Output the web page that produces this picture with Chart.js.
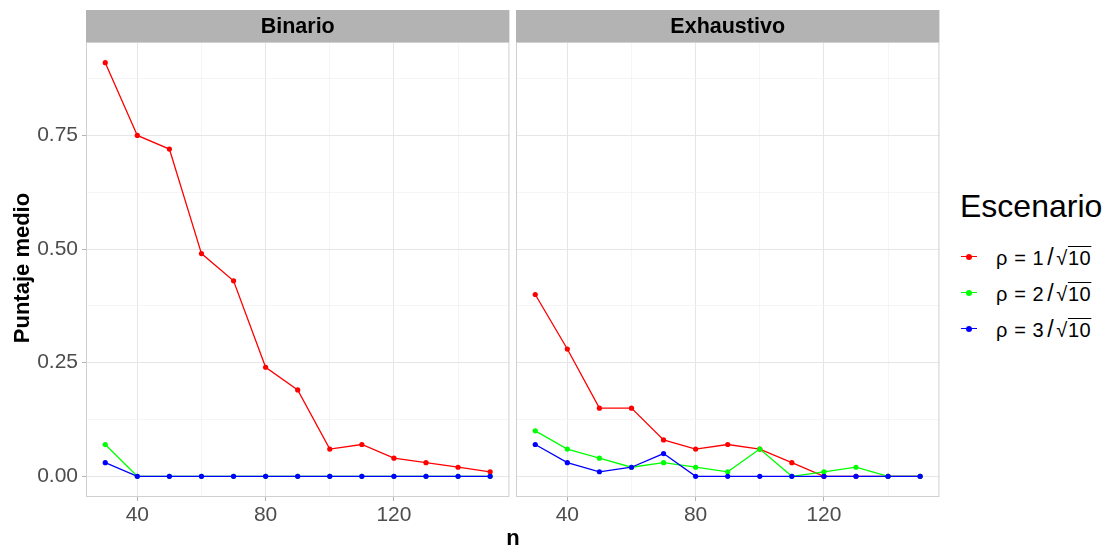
<!DOCTYPE html>
<html><head><meta charset="utf-8">
<script src="https://cdn.jsdelivr.net/npm/chart.js@4/dist/chart.umd.min.js"></script>
<style>
html,body{margin:0;padding:0;background:#fff;width:1112px;height:552px;overflow:hidden;font-family:"Liberation Sans",Arial,sans-serif;}
canvas{position:absolute;top:0;}
#xt{position:absolute;left:463px;width:100px;top:525px;text-align:center;font-weight:bold;font-size:22px;line-height:26px;color:#000;}
#yt{position:absolute;left:-78px;top:255px;width:200px;height:26px;line-height:26px;text-align:center;font-weight:bold;font-size:22px;color:#000;transform:rotate(-90deg);}
#legt{position:absolute;left:960px;top:187px;font-size:32px;line-height:38px;color:#000;}
.it{position:absolute;left:960px;height:30px;width:150px;}
.ln{position:absolute;left:1px;top:14px;width:16px;height:1.4px;}
.dt{position:absolute;left:6px;top:12px;width:6px;height:6px;border-radius:50%;}
.tx{position:absolute;left:36px;top:2px;line-height:26px;font-size:20px;white-space:nowrap;color:#000;letter-spacing:0.6px;}
.sl{font-size:23px;margin:0 2px 0 3px;}
.ov{text-decoration:overline;text-decoration-thickness:1px;}
</style></head><body>
<canvas id="c1" width="512" height="552" style="left:0px;width:512px;height:552px"></canvas>
<canvas id="c2" width="436" height="552" style="left:506px;width:436px;height:552px"></canvas>
<div id="xt">n</div>
<div id="yt">Puntaje medio</div>
<div id="legt">Escenario</div>
<div id="legend"></div>
<script>
const nValues = [30,40,50,60,70,80,90,100,110,120,130,140,150];
const panels = ["Binario","Exhaustivo"];
const seriesNames = ["ρ = 1/√10","ρ = 2/√10","ρ = 3/√10"];
const seriesNums = ["1","2","3"];
const seriesColors = ["#FF0000","#00FF00","#0000FF"];
const binRho1 = [0.91,0.75,0.72,0.49,0.43,0.24,0.19,0.06,0.07,0.04,0.03,0.02,0.01];
const binRho2 = [0.07,0,0,0,0,0,0,0,0,0,0,0,0];
const binRho3 = [0.03,0,0,0,0,0,0,0,0,0,0,0,0];
const exhRho1 = [0.40,0.28,0.15,0.15,0.08,0.06,0.07,0.06,0.03,0,0,0,0];
const exhRho2 = [0.10,0.06,0.04,0.02,0.03,0.02,0.01,0.06,0,0.01,0.02,0,0];
const exhRho3 = [0.07,0.03,0.01,0.02,0.05,0,0,0,0,0,0,0,0];
const xMajor = [40,80,120];
const xMinor = [60,100,140];
const yMajor = [0,0.25,0.5,0.75];
const yMinor = [0.125,0.375,0.625,0.875];
const yTickLabels = ["0.00","0.25","0.50","0.75"];

// legend (HTML text)
const legTops = [242,278,314];
document.getElementById('legend').innerHTML = seriesNums.map((k,i)=>
  `<div class="it" style="top:${legTops[i]}px"><div class="ln" style="background:${seriesColors[i]}"></div><div class="dt" style="background:${seriesColors[i]}"></div><div class="tx">ρ = ${k}<span class="sl">/</span>√<span class="ov">10</span></div></div>`
).join('');

const isMajor = (arr,v)=>arr.some(a=>Math.abs(a-v)<1e-9);
const FONT = '"Liberation Sans", Arial, sans-serif';

function makeChart(id, title, data, showY, yWidth){
  const ds = data.map((d,i)=>({
    label: seriesNames[i],
    data: nValues.map((x,j)=>({x:x,y:d[j]})),
    borderColor: seriesColors[i], backgroundColor: seriesColors[i],
    borderWidth: 1.3, pointRadius: 2.6, pointHoverRadius: 2.6, pointBorderWidth: 0,
    tension: 0, order: 2 - i
  }));
  const stripPlugin = {
    id:'strip',
    beforeDraw(chart){
      const {ctx, chartArea:a} = chart;
      ctx.save();
      ctx.fillStyle = '#B3B3B3';
      ctx.fillRect(a.left, 10, a.right-a.left, 32);
      ctx.fillStyle = '#000';
      ctx.font = 'bold 21.5px ' + FONT;
      ctx.textAlign = 'center'; ctx.textBaseline = 'middle';
      ctx.fillText(title, (a.left+a.right)/2, 27);
      ctx.restore();
    },
    afterDraw(chart){
      const {ctx, chartArea:a} = chart;
      ctx.save();
      ctx.strokeStyle = '#D0D0D0'; ctx.lineWidth = 1;
      ctx.strokeRect(a.left+0.5, a.top+0.5, a.right-a.left-1, a.bottom-a.top-1);
      ctx.restore();
    }
  };
  return new Chart(document.getElementById(id), {
    type:'line',
    data:{datasets: ds},
    plugins:[stripPlugin],
    options:{
      responsive:false, animation:false,
      layout:{padding:{top:42,right:2,left:0,bottom:0}},
      plugins:{legend:{display:false},tooltip:{enabled:false}},
      scales:{
        x:{type:'linear', min:24, max:156,
          afterBuildTicks(s){ s.ticks = xMajor.concat(xMinor).sort((a,b)=>a-b).map(v=>({value:v})); },
          afterFit(s){ s.height = 55; },
          ticks:{autoSkip:false, maxRotation:0, padding:2, color:'#4D4D4D',
            font:{size:21, family:FONT},
            callback:(v)=> isMajor(xMajor,v) ? String(v) : ''},
          grid:{color:(c)=> isMajor(xMajor,c.tick.value) ? '#E6E6E6' : '#F2F2F2',
            lineWidth:(c)=> isMajor(xMajor,c.tick.value) ? 1 : 0.8,
            tickColor:(c)=> isMajor(xMajor,c.tick.value) ? '#B3B3B3' : 'rgba(0,0,0,0)',
            tickLength:4, drawTicks:true},
          border:{display:false}
        },
        y:{type:'linear', min:-0.0455, max:0.9555,
          afterBuildTicks(s){ s.ticks = yMajor.concat(yMinor).sort((a,b)=>a-b).map(v=>({value:v})); },
          afterFit(s){ s.width = yWidth; },
          ticks:{display:showY, autoSkip:false, padding:4, color:'#4D4D4D',
            font:{size:21, family:FONT},
            callback:(v)=>{ const k = yMajor.findIndex(a=>Math.abs(a-v)<1e-9); return k>=0 ? yTickLabels[k] : ''; }},
          grid:{color:(c)=> isMajor(yMajor,c.tick.value) ? '#E6E6E6' : '#F2F2F2',
            lineWidth:(c)=> isMajor(yMajor,c.tick.value) ? 1 : 0.8,
            tickColor:(c)=> (showY && isMajor(yMajor,c.tick.value)) ? '#B3B3B3' : 'rgba(0,0,0,0)',
            tickLength:4, drawTicks:showY},
          border:{display:false}
        }
      }
    }
  });
}
makeChart('c1', panels[0], [binRho1,binRho2,binRho3], true, 86);
makeChart('c2', panels[1], [exhRho1,exhRho2,exhRho3], false, 10);
</script>
</body></html>
